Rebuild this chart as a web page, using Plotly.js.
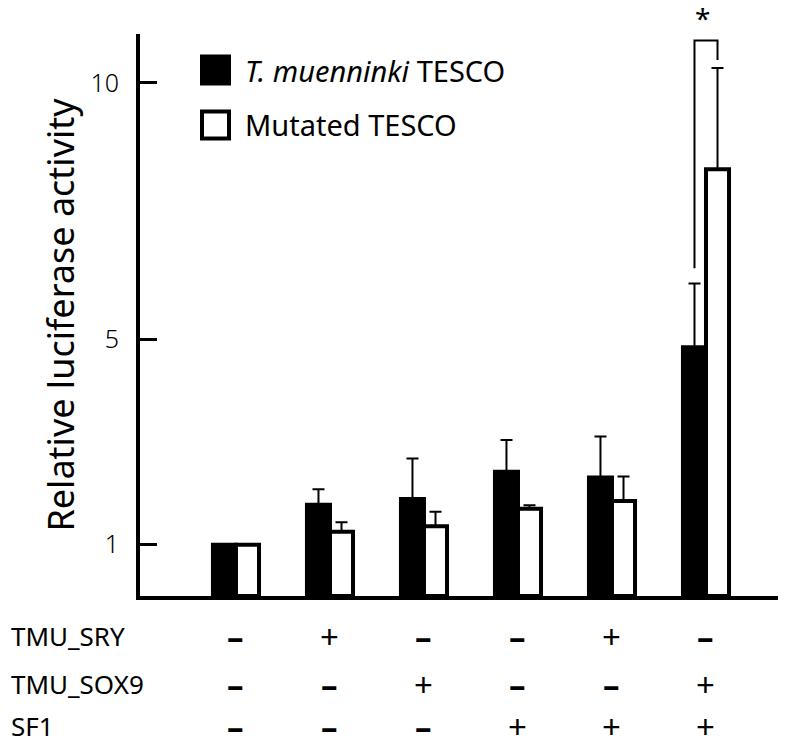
<!DOCTYPE html>
<html>
<head>
<meta charset="utf-8">
<script src="https://cdn.plot.ly/plotly-3.0.1.min.js"></script>
<style>html,body{margin:0;padding:0;background:#fff;}#chart{width:788px;height:748px;}</style>
</head>
<body>
<div id="chart"></div>
<script>
// ---- data ----
var groups = [0, 1, 2, 3, 4, 5];
var nativeMean = [1.0, 1.78, 1.89, 2.42, 2.31, 4.85];
var nativeErrTop = [1.0, 2.08, 2.68, 3.04, 3.11, 6.09];
var mutatedMean = [1.0, 1.25, 1.36, 1.70, 1.85, 8.32];
var mutatedErrTop = [1.0, 1.44, 1.64, 1.77, 2.33, 10.29];
var seriesNames = ["T. muenninki TESCO", "Mutated TESCO"];
var rowLabels = ["TMU_SRY", "TMU_SOX9", "SF1"];
var rowSigns = [
  ["-", "+", "-", "-", "+", "-"],
  ["-", "-", "+", "-", "-", "+"],
  ["-", "-", "-", "+", "+", "+"]
];
var yTickVals = [1, 5, 10];
var yTitle = "Relative luciferase activity";
var sigGroup = 5;
var sigMark = "*";

// ---- layout constants ----
var FONT = "Noto Sans, Open Sans, DejaVu Sans, sans-serif";
var bargap = 0.51;
var barW = (1 - bargap) / 2;
var L = 140, R = 10, T = 34, B = 152, W = 788, H = 748;
var yMax = 10.955;
var plotW = W - L - R, plotH = H - T - B;
function px2paperX(px) { return (px - L) / plotW; }
function px2paperY(py) { return (H - B - py) / plotH; }

function diffs(top, mean) { return top.map(function (t, i) { return Math.max(0, t - mean[i]); }); }

var traces = [
  {
    type: "bar", x: groups, y: nativeMean, name: seriesNames[0], showlegend: false,
    marker: { color: "#000", line: { color: "#000", width: 4 } },
    error_y: { type: "data", symmetric: false, array: diffs(nativeErrTop, nativeMean),
      arrayminus: nativeMean.map(function () { return 0; }), color: "#000", thickness: 2, width: 6 }
  },
  {
    type: "bar", x: groups, y: mutatedMean, name: seriesNames[1], showlegend: false,
    marker: { color: "#fff", line: { color: "#000", width: 4 } },
    error_y: { type: "data", symmetric: false, array: diffs(mutatedErrTop, mutatedMean),
      arrayminus: mutatedMean.map(function () { return 0; }), color: "#000", thickness: 2, width: 6 }
  }
];

var annotations = [];
var shapes = [];

// condition table
var rowY = [636, 684, 726];
rowLabels.forEach(function (lab, r) {
  annotations.push({ xref: "paper", yref: "paper", x: px2paperX(9), y: px2paperY(rowY[r]),
    xanchor: "left", yanchor: "middle", text: lab, showarrow: false,
    font: { family: FONT, size: 26, color: "#000" } });
  groups.forEach(function (g, i) {
    var isPlus = rowSigns[r][i] === "+";
    annotations.push({ xref: "x", yref: "paper", x: g, y: px2paperY(rowY[r]),
      xanchor: "center", yanchor: "middle", showarrow: false,
      text: isPlus ? "+" : "<b>\u2013</b>",
      font: { family: FONT, size: 33, color: "#000" } });
  });
});

// manual legend (large squares)
var legRows = [70, 125];
seriesNames.forEach(function (nm, k) {
  var cy = legRows[k];
  shapes.push({ type: "rect", xref: "paper", yref: "paper",
    x0: px2paperX(202), x1: px2paperX(229), y0: px2paperY(cy - 13.5), y1: px2paperY(cy + 13.5),
    fillcolor: k === 0 ? "#000" : "#fff", line: { color: "#000", width: 4 } });
  annotations.push({ xref: "paper", yref: "paper", x: px2paperX(243), y: px2paperY(cy),
    xanchor: "left", yanchor: "middle", showarrow: false,
    text: k === 0 ? "<i>T. muenninki</i> TESCO" : nm,
    font: { family: FONT, size: 29, color: "#000" } });
});

// significance bracket
var xl = sigGroup - barW / 2, xr = sigGroup + barW / 2;
var yl = nativeErrTop[sigGroup] + 0.3;
var yr = mutatedErrTop[sigGroup] + 0.16;
var yt = Math.max(yl, yr) + 0.38;
shapes.push({ type: "path", xref: "x", yref: "y",
  path: "M" + xl + "," + yl + " L" + xl + "," + yt + " L" + xr + "," + yt + " L" + xr + "," + yr,
  line: { color: "#000", width: 2 } });
annotations.push({ xref: "x", yref: "paper", x: sigGroup - 0.04, y: yt / yMax, yshift: 1,
  xanchor: "center", yanchor: "bottom",
  showarrow: false, text: sigMark, font: { family: FONT, size: 28, color: "#000" } });

var layout = {
  width: W, height: H,
  margin: { l: L, r: R, t: T, b: B, pad: 0 },
  paper_bgcolor: "#fff", plot_bgcolor: "#fff",
  barmode: "group", bargap: bargap, bargroupgap: 0,
  showlegend: false,
  xaxis: { range: [-1.021, 5.766], showgrid: false, zeroline: false, showticklabels: false,
    ticks: "", showline: true, linecolor: "#000", linewidth: 4, fixedrange: true },
  yaxis: { range: [0, yMax], showgrid: false, zeroline: false, tickmode: "array",
    tickvals: yTickVals, ticktext: yTickVals.map(String), ticks: "inside", ticklen: 17,
    tickwidth: 3, tickcolor: "#000", showline: true, linecolor: "#000", linewidth: 4,
    ticklabelstandoff: 12,
    tickfont: { family: FONT, size: 25, color: "#000", weight: 300 },
    title: { text: yTitle, standoff: 6, font: { family: FONT, size: 36, color: "#000" } } },
  annotations: annotations,
  shapes: shapes
};

Plotly.newPlot("chart", traces, layout, { staticPlot: true, displayModeBar: false });
</script>
</body>
</html>
